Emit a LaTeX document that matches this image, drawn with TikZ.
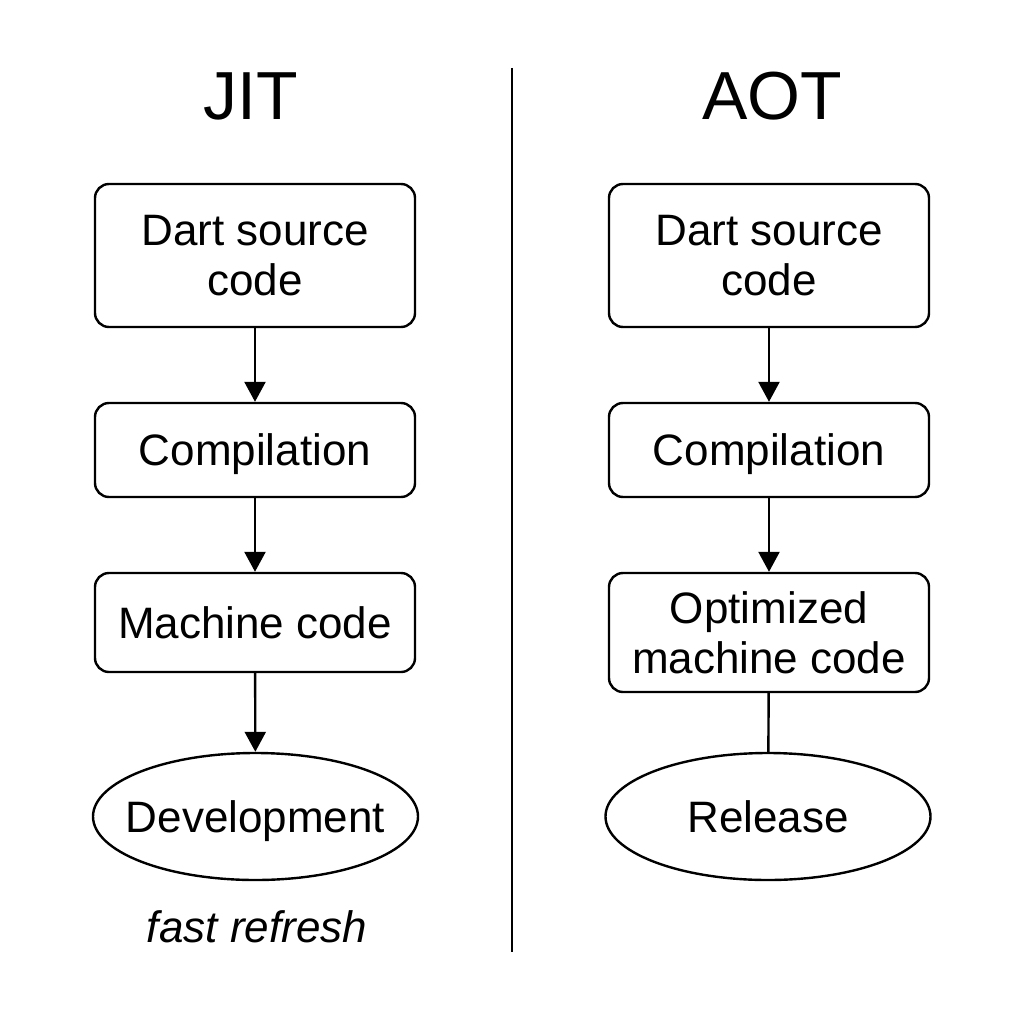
\documentclass[tikz,border=0pt]{standalone}
\usepackage{fontspec}
\setmainfont{Liberation Sans}
\usetikzlibrary{arrows.meta,shapes.geometric}
\tikzset{
  box/.style={draw, line width=2.4pt, rounded corners=14pt, minimum width=320pt, inner sep=0pt, align=center, font=\fontsize{44}{50}\selectfont},
  one/.style={text depth=0pt},
  oval/.style={draw, ellipse, line width=2.4pt, minimum width=325pt, minimum height=127pt, inner xsep=-50pt, inner ysep=0pt, text depth=0pt, font=\fontsize{44}{50}\selectfont},
  arr/.style={line width=2.4pt, -{Triangle[length=20pt,width=21pt]}},
  plain/.style={line width=2.4pt},
  title/.style={font=\fontsize{68}{70}\selectfont, text depth=0pt}
}
\begin{document}
\begin{tikzpicture}[x=1pt,y=-1pt]
\useasboundingbox[fill=white] (0,0) rectangle (1024,1024);
\node[title] (jit) at (251,96) {JIT};
\node[title] (aot) at (772,96) {AOT};
\coordinate (dtop) at (512,68);
\coordinate (dbot) at (512,952);
\draw[plain] (dtop) -- (dbot);
% left
\node[box, minimum height=143pt] (l1) at (255,255.5) {Dart source\\code};
\node[box, one, minimum height=94pt] (l2) at (255,450) {Compilation};
\node[box, one, minimum height=99pt] (l3) at (255,622.5) {Machine code};
\node[oval] (l4) at (255.5,816.5) {Development};
\node[font=\fontsize{44}{50}\selectfont\itshape, text depth=0pt] (fr) at (257,927) {fast refresh};
\draw[arr] (l1) -- (l2);
\draw[arr] (l2) -- (l3);
\draw[arr] (l3) -- (l4);
% right
\node[box, minimum height=143pt] (r1) at (769,255.5) {Dart source\\code};
\node[box, one, minimum height=94pt] (r2) at (769,450) {Compilation};
\node[box, minimum height=119pt] (r3) at (769,632.5) {Optimized\\machine code};
\node[oval] (r4) at (768,816.5) {Release};
\draw[arr] (r1) -- (r2);
\draw[arr] (r2) -- (r3);
\draw[plain] (r3) -- (r4);
\end{tikzpicture}
\end{document}
